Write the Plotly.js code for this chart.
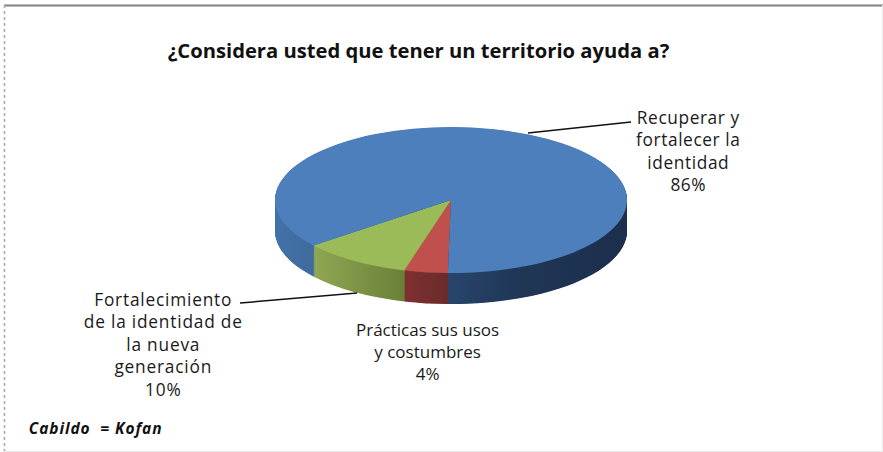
<!DOCTYPE html>
<html><head><meta charset="utf-8">
<script src="https://cdn.plot.ly/plotly-3.0.1.min.js"></script>
<style>html,body{margin:0;padding:0;background:#fff}#c{width:883px;height:452px}</style>
</head><body><div id="c"></div>
<script>
const categories = ["Prácticas sus usos<br>y costumbres", "Fortalecimiento<br>de la identidad de<br>la nueva<br>generación", "Recuperar y<br>fortalecer la<br>identidad"];
const values = [4, 10, 86];
const topColors = ["#c0504d", "#9bbb59", "#4d7fbc"];
const chartTitle = "¿Considera usted que tener un territorio ayuda a?";
const note = "Cabildo  = Kofan";
const FONT = "'Open Sans', Lato, sans-serif";
const W = 883, H = 452, CX = 451, CY = 200, RX = 176, RY = 73, DEPTH = 31, ROT = 181;
const k = RY / RX, Y0 = 188;

function dom(cy){return {x:[(CX-RX)/W,(CX+RX)/W], y:[1-(cy+RX)/H,1-(cy-RX)/H]};}
const trace = (cy)=>({type:'pie',values,labels:categories,sort:false,direction:'clockwise',rotation:ROT,
  textinfo:'none',hoverinfo:'skip',showlegend:false,domain:dom(cy),
  marker:{colors:topColors,line:{width:0}}});
const traces=[];
for(let d=DEPTH;d>=0;d-=0.5) traces.push(trace(Y0+d/k));

const txt=(t,x,y,o={})=>Object.assign({text:t,x:x/W,y:1-y/H,xref:'paper',yref:'paper',xanchor:'center',yanchor:'middle',showarrow:false,align:'center',
   font:{family:FONT,size:17.3,color:'#1a1a1a'}},o);
const line=(x0,y0,x1,y1,c,w,dash)=>({type:'line',xref:'paper',yref:'paper',x0:x0/W,x1:x1/W,y0:1-y0/H,y1:1-y1/H,line:{color:c,width:w,dash:dash||'solid'}});

const layout={width:W,height:H,margin:{l:0,r:0,t:0,b:0},paper_bgcolor:'#fff',
  title:{text:'<b>'+chartTitle+'</b>',x:418.5/W,xanchor:'center',y:1-51/H,yanchor:'middle',font:{family:FONT,size:20.2,color:'#111'}},
  annotations:[
    txt(categories[2]+'<br>'+values[2]+'%',688,151),
    txt(categories[1]+'<br>'+values[1]+'%',163.5,344),
    txt(categories[0]+'<br>'+values[0]+'%',427,351,{font:{family:FONT,size:17,color:'#1a1a1a'}}),
    txt('<b><i>'+note+'</i></b>',34,428,{xanchor:'left',font:{family:FONT,size:15.5,color:'#111'}})
  ],
  shapes:[
    line(4,5.5,883,5.5,'#808080',2),
    line(4.5,5,4.5,452,'#a8a8a8',1.5,'dot'),
    line(882.5,5,882.5,452,'#ececec',1),
    line(4,451.5,883,451.5,'#e6e6e6',1),
    line(528,133,631,122,'#111',1.5),
    line(240,303,357,293,'#111',1.5)
  ]};

Plotly.newPlot('c',traces,layout,{displayModeBar:false,staticPlot:true}).then(gd=>{
  const NS='http://www.w3.org/2000/svg';
  const svg=gd.querySelector('svg.main-svg');
  const defs=document.createElementNS(NS,'defs');
  const grads={
    side0:[[0,'#803030'],[1,'#6c2b2b']],
    side1:[[0,'#8ea653'],[1,'#6a8038']],
    side2:[[0,'#4272a8'],[0.117,'#3e6a9c'],[0.49,'#28456c'],[0.7,'#1f3655'],[1,'#1c2f4c']]
  };
  const ranges={side0:[405,446],side1:[316,405],side2:[CX-RX,CX+RX]};
  Object.keys(grads).forEach(id=>{
    const g=document.createElementNS(NS,'linearGradient');
    g.setAttribute('id',id);g.setAttribute('gradientUnits','userSpaceOnUse');
    g.setAttribute('x1',ranges[id][0]);g.setAttribute('x2',ranges[id][1]);
    g.setAttribute('y1',0);g.setAttribute('y2',0);
    grads[id].forEach(s=>{const st=document.createElementNS(NS,'stop');st.setAttribute('offset',s[0]);st.setAttribute('stop-color',s[1]);g.appendChild(st);});
    defs.appendChild(g);
  });
  svg.insertBefore(defs,svg.firstChild);
  const tr=gd.querySelectorAll('.pielayer .trace');
  tr.forEach((t,i)=>{
    if(i===tr.length-1) return;
    t.querySelectorAll('.slice path.surface').forEach((p,j)=>{p.style.fill='url(#side'+j+')';});
  });
  gd.querySelector('.pielayer').setAttribute('transform','translate(0,'+(CY-Y0*k)+') scale(1,'+k+')');
  const spacing=['0.6px','0.8px','0','0.9px'];
  gd.querySelectorAll('.annotation-text').forEach((t,i)=>{t.style.letterSpacing=spacing[i];});
});
</script></body></html>
